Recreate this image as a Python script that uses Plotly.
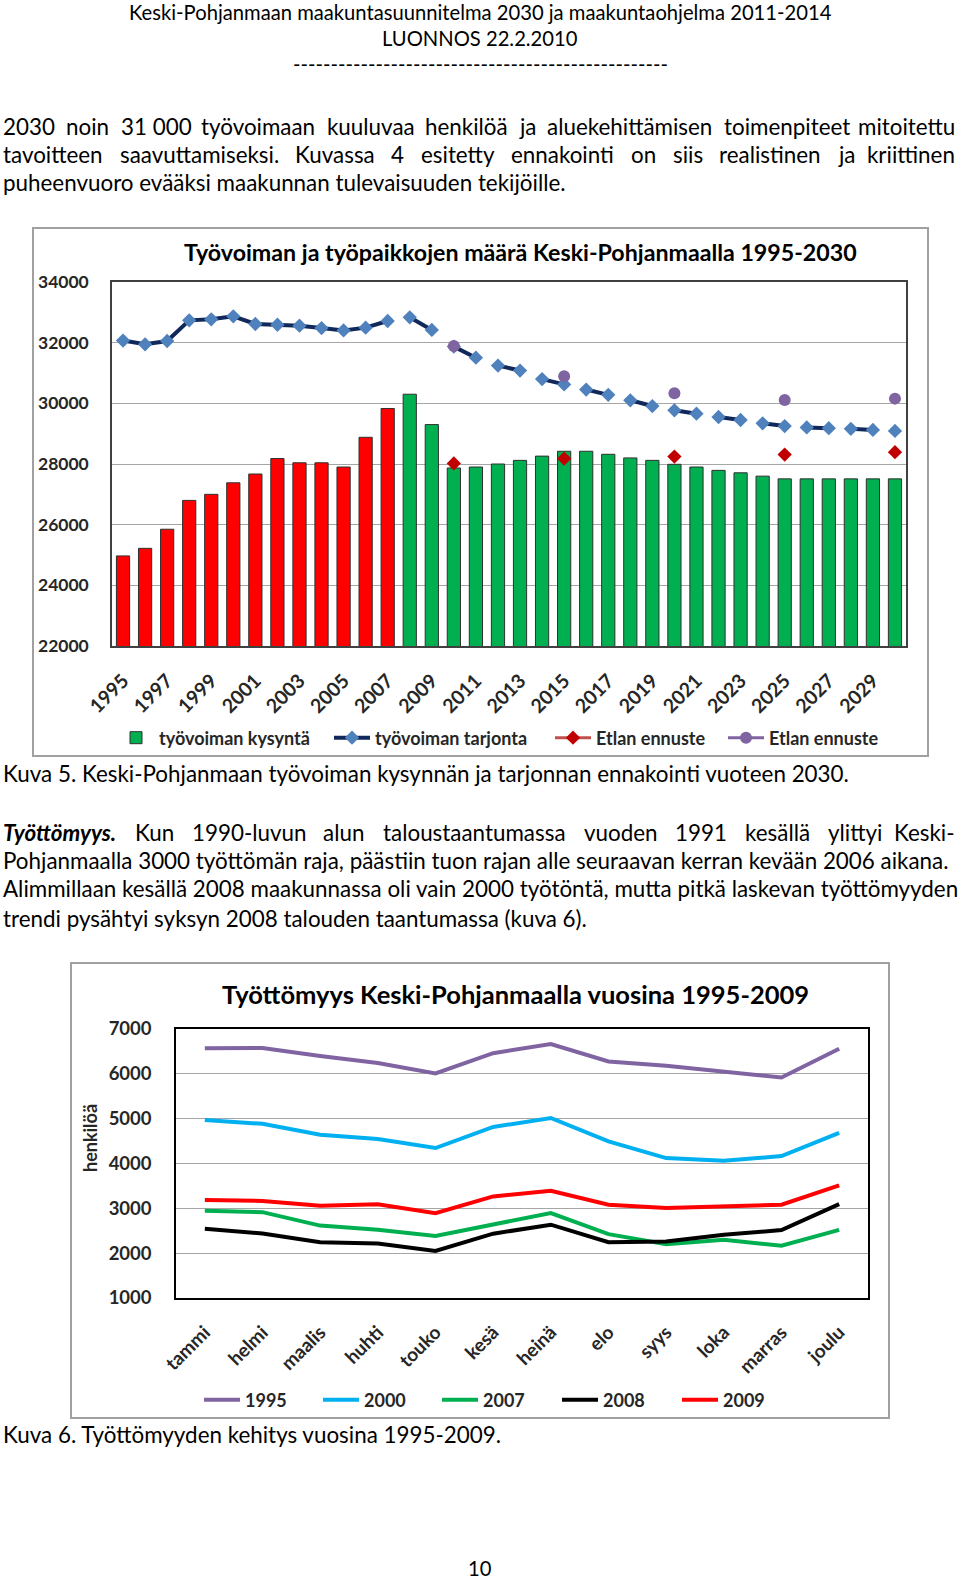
import plotly.graph_objects as go

W, H = 960, 1581
FONT = "Lato, 'Open Sans', sans-serif"
TXT = "#000000"
AX = "#262626"

# ---------------- Chart 1 data ----------------
years = list(range(1995, 2031))
last_hist_year = 2007
demand = [24970, 25220, 25850, 26800, 27000, 27380, 27670, 28180, 28040, 28040,
          27900, 28880, 29830, 30300, 29300, 27870, 27900, 28000, 28120, 28260,
          28420, 28420, 28320, 28200, 28120, 27990, 27900, 27790, 27710, 27600,
          27510, 27510, 27510, 27510, 27510, 27510]
supply = [32070, 31945, 32055, 32736, 32770, 32870, 32615, 32590, 32560, 32480,
          32405, 32495, 32715, 32835, 32420, 31870, 31505, 31245, 31080, 30800,
          30625, 30455, 30280, 30100, 29910, 29770, 29660, 29550, 29450, 29340,
          29250, 29205, 29180, 29160, 29125, 29090]
supply_breaks_after = [2007, 2009, 2011, 2013, 2015, 2017, 2019, 2021, 2023,
                       2025, 2027, 2029]
etla_years = [2010, 2015, 2020, 2025, 2030]
etla_red = [28020, 28180, 28245, 28310, 28390]
etla_purple = [31890, 30890, 30335, 30110, 30155]
x_tick_years = years[::2]
y1_ticks = [22000, 24000, 26000, 28000, 30000, 32000, 34000]

# ---------------- Chart 2 data ----------------
months = ["tammi", "helmi", "maalis", "huhti", "touko", "kesä", "heinä",
          "elo", "syys", "loka", "marras", "joulu"]
u1995 = [6570, 6575, 6400, 6240, 6010, 6460, 6665, 6277, 6180, 6055, 5920, 6560]
u2000 = [4970, 4885, 4640, 4545, 4345, 4815, 5015, 4495, 4120, 4060, 4165, 4685]
u2007 = [2945, 2915, 2615, 2520, 2385, 2650, 2895, 2425, 2200, 2300, 2165, 2520]
u2008 = [2545, 2440, 2245, 2215, 2050, 2435, 2635, 2245, 2260, 2410, 2515, 3095]
u2009 = [3185, 3165, 3060, 3090, 2890, 3265, 3390, 3080, 3005, 3040, 3080, 3510]
unemp_series = [("1995", u1995, "#8064A2"), ("2000", u2000, "#00B0F0"),
                ("2007", u2007, "#00B050"), ("2008", u2008, "#000000"),
                ("2009", u2009, "#FF0000")]


def px(x):
    return x / W


def py(y):
    return 1 - y / H


fig = go.Figure()

# bars
hist = [(y, v) for y, v in zip(years, demand) if y <= last_hist_year]
fc = [(y, v) for y, v in zip(years, demand) if y > last_hist_year]
fig.add_trace(go.Bar(x=[a for a, b in hist], y=[b for a, b in hist], width=0.6,
                     marker=dict(color="#FF0000", line=dict(color="#303030", width=1)),
                     showlegend=False, xaxis="x", yaxis="y"))
fig.add_trace(go.Bar(x=[a for a, b in fc], y=[b for a, b in fc], width=0.6,
                     name="työvoiman kysyntä",
                     marker=dict(color="#00B050", line=dict(color="#303030", width=1)),
                     legend="legend", xaxis="x", yaxis="y"))

# supply line with breaks
sx, sy = [], []
for yr, v in zip(years, supply):
    sx.append(yr)
    sy.append(v)
    if yr in supply_breaks_after:
        sx.append(None)
        sy.append(None)
fig.add_trace(go.Scatter(x=sx, y=sy, mode="lines+markers", connectgaps=False,
                         name="työvoiman tarjonta",
                         line=dict(color="#10285A", width=4),
                         marker=dict(symbol="diamond", size=11, color="#4F81BD"),
                         legend="legend2", xaxis="x", yaxis="y"))


def gapped(xs, ys):
    ox, oy = [], []
    for a, b in zip(xs, ys):
        ox += [a, None]
        oy += [b, None]
    return ox[:-1], oy[:-1]


rx, ry = gapped(etla_years, etla_red)
fig.add_trace(go.Scatter(x=rx, y=ry, mode="lines+markers", connectgaps=False,
                         name="Etlan ennuste",
                         line=dict(color="#C0504D", width=3),
                         marker=dict(symbol="diamond", size=11, color="#C00000"),
                         legend="legend3", xaxis="x", yaxis="y"))
ux, uy = gapped(etla_years, etla_purple)
fig.add_trace(go.Scatter(x=ux, y=uy, mode="lines+markers", connectgaps=False,
                         name="Etlan ennuste",
                         line=dict(color="#8064A2", width=3),
                         marker=dict(symbol="circle", size=12, color="#8064A2"),
                         legend="legend4", xaxis="x", yaxis="y"))

# chart 2 lines
for i, (nm, vals, col) in enumerate(unemp_series):
    fig.add_trace(go.Scatter(x=months, y=vals, mode="lines", name=nm,
                             line=dict(color=col, width=4),
                             legend="legend%d" % (5 + i), xaxis="x2", yaxis="y2"))


def tf(size):
    return dict(family=FONT, size=size, color=AX, weight="bold")


layout = dict(
    width=W, height=H, autosize=False,
    margin=dict(l=0, r=0, t=0, b=0, autoexpand=False),
    paper_bgcolor="white", plot_bgcolor="white",
    barmode="overlay", showlegend=True,
    xaxis=dict(domain=[px(112), px(906)], range=[1994.5, 2030.5],
               tickvals=x_tick_years, ticktext=[str(v) for v in x_tick_years],
               tickangle=-45, tickfont=tf(19.5), showgrid=False,
               showline=True, mirror=True, linecolor="#404040", linewidth=1.5,
               ticks="", ticklabelstandoff=14, zeroline=False, anchor="y",
               automargin=False),
    yaxis=dict(domain=[py(646), py(282)], range=[22000, 34000],
               tickvals=y1_ticks, tickformat="d", tickfont=tf(17.5),
               gridcolor="#A6A6A6", gridwidth=1, showline=True, mirror=True,
               linecolor="#404040", linewidth=1.5, ticks="",
               ticklabelstandoff=18, zeroline=False, anchor="x", automargin=False),
    xaxis2=dict(domain=[px(176), px(868)], range=[-0.5, 11.5], type="category",
                tickangle=-45, tickfont=tf(19), showgrid=False,
                showline=True, mirror=True, linecolor="#000000", linewidth=1.5,
                ticks="", ticklabelstandoff=14, zeroline=False, anchor="y2",
                automargin=False),
    yaxis2=dict(domain=[py(1298), py(1029)], range=[1000, 7000], dtick=1000,
                tickformat="d", tickfont=tf(18.5), gridcolor="#A6A6A6",
                showline=True, mirror=True, linecolor="#000000", linewidth=1.5,
                ticks="", ticklabelstandoff=19, zeroline=False, anchor="x2",
                automargin=False),
)

leg1_pos = [119, 335, 556, 729]
leg2_pos = [205, 324, 443, 563, 683]
names = ["legend"] + ["legend%d" % k for k in range(2, 10)]
positions = [(x, 738) for x in leg1_pos] + [(x, 1400) for x in leg2_pos]
for nm, (lx, ly) in zip(names, positions):
    layout[nm] = dict(x=px(lx - 6), y=py(ly), xanchor="left", yanchor="middle",
                      orientation="h", bgcolor="rgba(0,0,0,0)", borderwidth=0,
                      font=tf(18), itemwidth=36)

fig.update_layout(**layout)

# ---------------- frames ----------------
shapes = [
    dict(type="rect", xref="paper", yref="paper", x0=px(33), x1=px(928),
         y0=py(756), y1=py(228), line=dict(color="#A0A0A0", width=2)),
    dict(type="rect", xref="paper", yref="paper", x0=px(71), x1=px(889),
         y0=py(1418), y1=py(963), line=dict(color="#A0A0A0", width=2)),
]
fig.update_layout(shapes=shapes)

# ---------------- text ----------------
BODY = 22.4
HEAD = 20.2
anns = []


def text(s, x, y, size=BODY, anchor="left", color=TXT, **kw):
    anns.append(dict(text=s, x=px(x), y=py(y), xref="paper", yref="paper",
                     xanchor=anchor, yanchor="middle", showarrow=False,
                     font=dict(family=FONT, size=size, color=color, **kw)))


CW = {" ": .193, "\u00a0": .193, "a": .505, "b": .56, "c": .45, "d": .56,
      "e": .52, "f": .32, "g": .5, "h": .56, "i": .24, "j": .24, "k": .49,
      "l": .24, "m": .84, "n": .56, "o": .56, "p": .56, "q": .56, "r": .36,
      "s": .42, "t": .35, "u": .56, "v": .49, "w": .76, "x": .48, "y": .49,
      "z": .45, "ä": .505, "ö": .56, ".": .22, ",": .22, "-": .34, "(": .31,
      ")": .31}


def est(word, size, k=1.0):
    return sum(CW.get(c, .58 if c.isdigit() else .62) for c in word) * size * k


def justified(line, y, left=1, right=957, size=BODY, first_fmt=None):
    words = line.split(" ")
    ks = [0.94 if (i == 0 and first_fmt) else 1.0 for i in range(len(words))]
    widths = [est(w, size, k) for w, k in zip(words, ks)]
    gap = (right - left - sum(widths)) / (len(words) - 1)
    x = left
    for i, (w, wd) in enumerate(zip(words, widths)):
        s = w
        if i == 0 and first_fmt:
            s = first_fmt % w
        if i == len(words) - 1:
            text(s, right, y, size=size, anchor="right")
        else:
            text(s, x, y, size=size)
        x += wd + gap


# header
text("Keski-Pohjanmaan maakuntasuunnitelma 2030 ja maakuntaohjelma 2011-2014", 480, 12,
     size=HEAD, anchor="center")
text("LUONNOS 22.2.2010", 480, 38, size=HEAD, anchor="center")
text("-" * 50, 480, 64, size=HEAD, anchor="center")

# paragraph 1
justified("2030 noin 31\u00a0000 työvoimaan kuuluvaa henkilöä ja aluekehittämisen toimenpiteet mitoitettu", 126)
justified("tavoitteen saavuttamiseksi. Kuvassa 4 esitetty ennakointi on siis realistinen ja kriittinen", 154)
text("puheenvuoro evääksi maakunnan tulevaisuuden tekijöille.", 1, 183)

# chart titles
text("Työvoiman ja työpaikkojen määrä Keski-Pohjanmaalla 1995-2030", 520, 252,
     size=23.2, anchor="center", weight="bold")
text("Kuva 5. Keski-Pohjanmaan työvoiman kysynnän ja tarjonnan ennakointi vuoteen 2030.", 1, 773)

# paragraph 2
justified("Työttömyys. Kun 1990-luvun alun taloustaantumassa vuoden 1991 kesällä ylittyi Keski-", 832,
          first_fmt="<b><i>%s</i></b>")
text("Pohjanmaalla 3000 työttömän raja, päästiin tuon rajan alle seuraavan kerran kevään 2006 aikana.", 1, 860)
text("Alimmillaan kesällä 2008 maakunnassa oli vain 2000 työtöntä, mutta pitkä laskevan työttömyyden", 1, 889)
text("trendi pysähtyi syksyn 2008 talouden taantumassa (kuva 6).", 1, 918)

# chart 2 title and axis title
text("Työttömyys Keski-Pohjanmaalla vuosina 1995-2009", 515, 994, size=25.5,
     anchor="center", weight="bold")
anns.append(dict(text="henkilöä", x=px(90), y=py(1138), xref="paper", yref="paper",
                 xanchor="center", yanchor="middle", showarrow=False, textangle=-90,
                 font=tf(18)))
text("Kuva 6. Työttömyyden kehitys vuosina 1995-2009.", 1, 1434)
text("10", 480, 1568, size=HEAD, anchor="center")

fig.update_layout(annotations=anns)

fig.write_html("out.html",
               config={"displayModeBar": False},
               post_script="document.body.style.margin='0';"
                           "document.body.style.padding='0';"
                           "document.documentElement.style.overflow='hidden';")
